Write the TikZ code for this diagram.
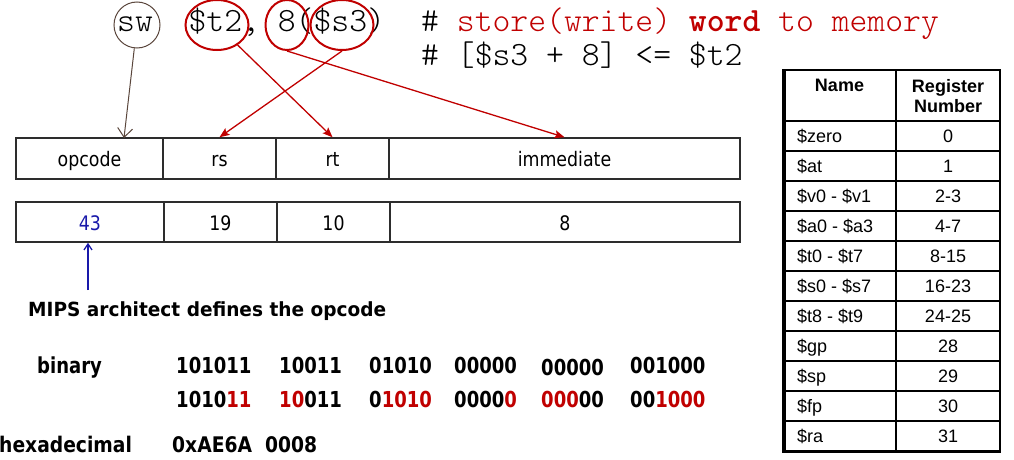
\documentclass[tikz,border=0pt]{standalone}
\usepackage{fontspec}
\usetikzlibrary{arrows.meta,shapes.geometric,calc}
\newfontfamily\sfA[FakeStretch=0.87]{DejaVu Sans}
\newfontfamily\sfB[FakeStretch=0.95]{DejaVu Sans}
\newfontfamily\sfC[FakeStretch=0.82]{DejaVu Sans}
\newfontfamily\arialf{Liberation Sans}
\newfontfamily\codefont[BoldFont=lmmonolt10-bold.otf]{lmmonolt10-regular.otf}
\definecolor{myred}{RGB}{192,0,0}
\definecolor{myblue}{RGB}{25,25,170}
\definecolor{mybrown}{RGB}{90,70,60}
\definecolor{boxgray}{RGB}{45,45,45}
\begin{document}
\begin{tikzpicture}[x=1pt,y=-1pt,
  field/.style={draw=boxgray,line width=1.5pt,inner sep=0pt,
    font=\sfA\fontsize{20}{24}\selectfont,text height=18pt,text depth=1.6pt},
  ring/.style={draw=myred,line width=2pt,ellipse,inner sep=0pt},
  swring/.style={draw=mybrown,line width=1pt,circle,inner sep=0pt,minimum size=46pt},
  redarrow/.style={draw=myred,line width=1.3pt,-{Stealth[length=10pt,width=8pt,inset=2pt]}},
  brownarrow/.style={draw=mybrown,line width=1pt,-{Straight Barb[length=9pt,width=15pt]}},
  bluearrow/.style={draw=myblue,line width=1.3pt,-{Straight Barb[length=6pt,width=8pt]}},
  code/.style={inner sep=0pt,anchor=base west,font=\codefont\fontsize{34}{40}\selectfont},
  bold/.style={inner sep=0pt,anchor=base west,font=\sfB\bfseries\fontsize{19.5}{22}\selectfont},
  bin/.style={inner sep=0pt,anchor=base west,font=\sfC\bfseries\fontsize{22}{26}\selectfont},
  hex/.style={inner sep=0pt,anchor=base west,font=\sfA\bfseries\fontsize{21.5}{24}\selectfont},
  tabtext/.style={inner sep=0pt,font=\arialf\fontsize{18}{20}\selectfont},
  tabhead/.style={inner sep=0pt,align=center,font=\arialf\bfseries\fontsize{18}{19.5}\selectfont},
]
\useasboundingbox (0,0) rectangle (1014,460);

% instruction text
\node[code] (instr) at (117,32) {sw\ \ \$t2,\ 8(\$s3)};
\node[code] (c1) at (421,32) {\#\ {\color{myred}store(write)\ {\bfseries word}\ to\ memory}};
\node[code] (c2) at (421,66) {\#\ [\$s3\ +\ 8]\ <=\ \$t2};

% rings
\node[swring] (sw) at (137,25) {};
\node[ring,minimum width=63pt,minimum height=50pt] (t2) at (217,25) {};
\node[ring,minimum width=43pt,minimum height=50pt] (eight) at (287,25) {};
\node[ring,minimum width=63pt,minimum height=50pt] (s3) at (342,25) {};

% field boxes
\node[field,minimum width=147pt,minimum height=41pt] (opcode) at (89.5,158.5) {opcode};
\node[field,minimum width=113pt,minimum height=41pt] (rs) at (219.5,158.5) {rs};
\node[field,minimum width=113pt,minimum height=41pt] (rt) at (332.5,158.5) {rt};
\node[field,minimum width=351pt,minimum height=41pt] (imm) at (564.5,158.5) {immediate};

\node[field,minimum width=148pt,minimum height=40pt,text=myblue] (f43) at (90,222) {43};
\node[field,minimum width=113pt,minimum height=40pt] (f19) at (220.5,222) {19};
\node[field,minimum width=113pt,minimum height=40pt] (f10) at (333.5,222) {10};
\node[field,minimum width=350pt,minimum height=40pt] (f8) at (565,222) {8};

% arrows
\coordinate (opin) at (124,138);
\draw[brownarrow] (sw) -- (opin);
\draw[redarrow] (t2) -- (rt.north);
\draw[redarrow] (s3.south) -- (rs.north);
\draw[redarrow] (eight.south) -- (imm.north);

\node[bold] (mips) at (28,316) {MIPS architect defines the opcode};
\coordinate (bluestart) at (88,290);
\draw[bluearrow] (bluestart) -- (bluestart |- f43.south);

% binary
\node[bin] (binlbl) at (37,373) {binary};
\node[bin] (b1) at (176,373) {101011};
\node[bin] (b2) at (279,373) {10011};
\node[bin] (b3) at (369,373) {01010};
\node[bin] (b4) at (454,373) {00000};
\node[bin] (b5) at (541,375) {00000};
\node[bin] (b6) at (630,373) {001000};

\node[bin] (r1) at (176,407) {1010{\color{myred}11}};
\node[bin] (r2) at (279,407) {{\color{myred}10}011};
\node[bin] (r3) at (369,407) {0{\color{myred}1010}};
\node[bin] (r4) at (454,407) {0000{\color{myred}0}};
\node[bin] (r5) at (541,407) {{\color{myred}000}00};
\node[bin] (r6) at (630,407) {00{\color{myred}1000}};

\node[hex] (hexlbl) at (-1,452) {hexadecimal};
\node[hex] (hexval) at (172,452) {0xAE6A\ \ 0008};

% register table
\draw[line width=2.5pt] (783,70) rectangle (1000,451.5);
\draw[line width=2.5pt] (784.5,70) -- (784.5,451.5);
\draw[line width=2.5pt] (783,121) -- (1000,121);
\foreach \k in {1,...,10} \draw[line width=1.5pt] (783,121+30*\k) -- (1000,121+30*\k);
\draw[line width=1.8pt] (896,70) -- (896,451.5);

\node[tabhead,anchor=base] (hname) at (839.5,92) {Name};
\node[tabhead] (hnum) at (948,96) {Register\\Number};

\foreach \nm/\vl [count=\i from 0] in {\$zero/0,\$at/1,\$v0 - \$v1/2-3,\$a0 - \$a3/4-7,\$t0 - \$t7/8-15,\$s0 - \$s7/16-23,\$t8 - \$t9/24-25,\$gp/28,\$sp/29,\$fp/30,\$ra/31}{
  \node[tabtext,anchor=base west] (n\i) at (797,142.7+30*\i) {\nm};
  \node[tabtext,anchor=base] (v\i) at (948,142.7+30*\i) {\vl};
}
\end{tikzpicture}
\end{document}
